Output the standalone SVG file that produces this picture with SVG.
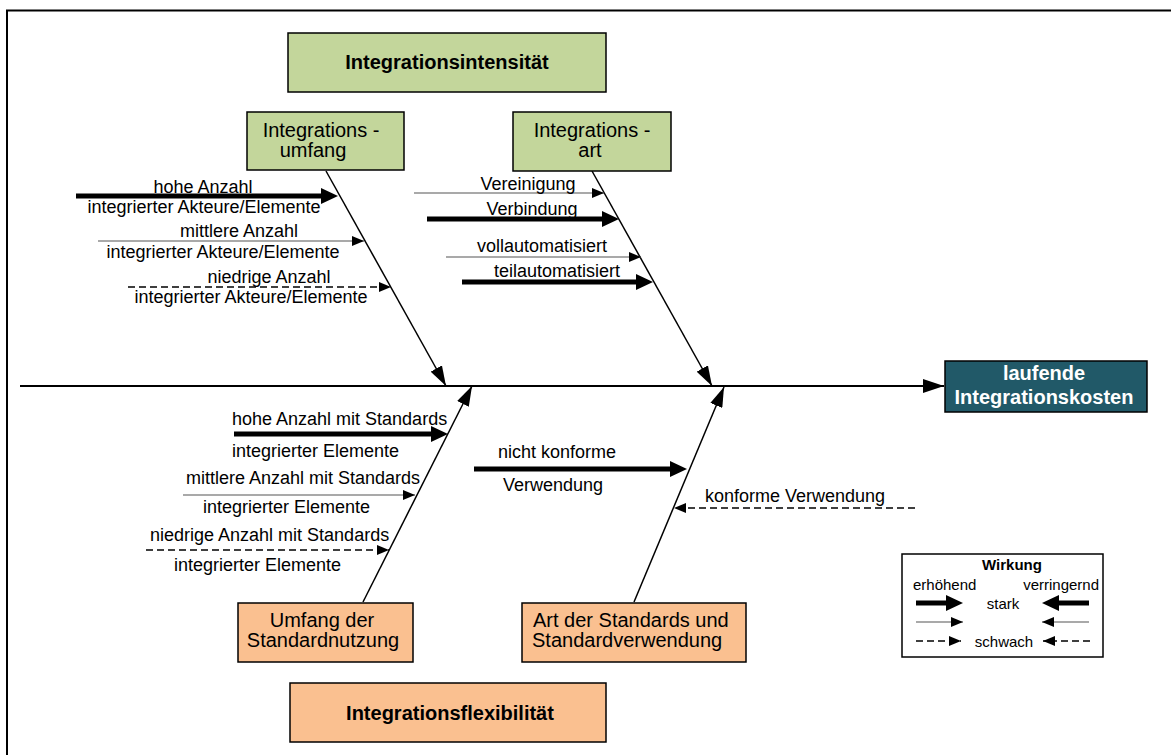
<svg xmlns="http://www.w3.org/2000/svg" width="1171" height="755" viewBox="0 0 1171 755">
  <style>
    text { font-family: "Liberation Sans", Arial, sans-serif; fill: #000; }
    .lbl { font-size: 18px; }
    .box-txt { font-size: 20px; }
    .title { font-size: 20px; font-weight: bold; }
    .leg { font-size: 15px; }
    .mid { text-anchor: middle; }
    .end { text-anchor: end; }
    .green { fill: #c3d69b; stroke: #000; stroke-width: 1.5; }
    .peach { fill: #fac090; stroke: #000; stroke-width: 1.5; }
    .teal { fill: #215968; stroke: #000; stroke-width: 1.5; }
    .spine { stroke: #000; stroke-width: 1.5; fill: none; }
    .thick { stroke: #000; stroke-width: 5; fill: none; }
    .thin { stroke: #555; stroke-width: 1.2; fill: none; }
    .dash { stroke: #000; stroke-width: 1.6; fill: none; stroke-dasharray: 7 4; }
  </style>
  <defs>
    <marker id="ah-thin" markerUnits="userSpaceOnUse" markerWidth="12" markerHeight="10" refX="12" refY="5" orient="auto">
      <path d="M0,0 L12,5 L0,10 z" fill="#000"/>
    </marker>
    <marker id="ah-thick" markerUnits="userSpaceOnUse" markerWidth="17" markerHeight="16" refX="0" refY="8" orient="auto">
      <path d="M0,0 L17,8 L0,16 z" fill="#000"/>
    </marker>
    <marker id="ah-spine" markerUnits="userSpaceOnUse" markerWidth="20" markerHeight="13" refX="20" refY="6.5" orient="auto">
      <path d="M0,0 L20,6.5 L0,13 z" fill="#000"/>
    </marker>
    <marker id="ah-main" markerUnits="userSpaceOnUse" markerWidth="21" markerHeight="14" refX="21" refY="7" orient="auto">
      <path d="M0,0 L21,7 L0,14 z" fill="#000"/>
    </marker>
  </defs>

  <rect width="1171" height="755" fill="#fff"/>
  <!-- outer frame (open at right and bottom) -->
  <path d="M7,755 V10.5 H1171" fill="none" stroke="#000" stroke-width="2"/>

  <!-- connectors -->
  <g id="connectors">
    <!-- main spine -->
    <line x1="20" y1="386" x2="944" y2="386" stroke="#000" stroke-width="2" marker-end="url(#ah-main)"/>
    <!-- category bones -->
    <line class="spine" x1="326" y1="171" x2="446" y2="386" marker-end="url(#ah-spine)"/>
    <line class="spine" x1="592" y1="171" x2="712" y2="386" marker-end="url(#ah-spine)"/>
    <line class="spine" x1="363" y1="602" x2="472" y2="386" marker-end="url(#ah-spine)"/>
    <line class="spine" x1="634" y1="602" x2="724" y2="387" marker-end="url(#ah-spine)"/>

    <!-- Integrationsumfang -->
    <line class="thick" x1="76" y1="196" x2="321" y2="196" marker-end="url(#ah-thick)"/>
    <line class="thin" x1="98" y1="241" x2="364" y2="241" marker-end="url(#ah-thin)"/>
    <line class="dash" x1="128" y1="287" x2="391" y2="287" stroke-dasharray="10 6" marker-end="url(#ah-thin)"/>

    <!-- Integrationsart -->
    <line class="thin" x1="414" y1="193" x2="604" y2="193" marker-end="url(#ah-thin)"/>
    <line class="thick" x1="427" y1="219" x2="602" y2="219" marker-end="url(#ah-thick)"/>
    <line class="thin" x1="446" y1="257" x2="641" y2="257" marker-end="url(#ah-thin)"/>
    <line class="thick" x1="462" y1="282" x2="636" y2="282" marker-end="url(#ah-thick)"/>

    <!-- Umfang der Standardnutzung -->
    <line class="thick" x1="234" y1="434" x2="431" y2="434" marker-end="url(#ah-thick)"/>
    <line class="thin" x1="183" y1="495" x2="415" y2="495" marker-end="url(#ah-thin)"/>
    <line class="dash" x1="146" y1="550" x2="389" y2="550" marker-end="url(#ah-thin)"/>

    <!-- Art der Standards und Standardverwendung -->
    <line class="thick" x1="474" y1="469" x2="670" y2="469" marker-end="url(#ah-thick)"/>
    <line class="dash" x1="915" y1="508" x2="674" y2="508" marker-end="url(#ah-thin)"/>
  </g>

  <g id="integrationsintensitaet">
    <rect class="green" x="288" y="33" width="318" height="59"/>
    <text class="title mid" x="447" y="69">Integrationsintensität</text>
  </g>

  <g id="integrationsumfang">
    <rect class="green" x="247" y="112" width="157" height="58"/>
    <text class="box-txt mid" x="321" y="137">Integrations -</text>
    <text class="box-txt mid" x="313" y="157">umfang</text>
  </g>

  <g id="integrationsart">
    <rect class="green" x="513" y="112" width="158" height="59"/>
    <text class="box-txt mid" x="592" y="137">Integrations -</text>
    <text class="box-txt mid" x="590" y="157">art</text>
  </g>

  <g id="laufende-kosten">
    <rect class="teal" x="945" y="361" width="202" height="51"/>
    <text class="title mid" x="1044" y="380" fill="#fff" style="fill:#fff">laufende</text>
    <text class="title mid" x="1044" y="404" style="fill:#fff">Integrationskosten</text>
  </g>

  <g id="umfang-standardnutzung">
    <rect class="peach" x="238" y="603" width="175" height="59"/>
    <text class="box-txt mid" x="322" y="627">Umfang der</text>
    <text class="box-txt mid" x="323" y="647">Standardnutzung</text>
  </g>

  <g id="art-standards">
    <rect class="peach" x="522" y="603" width="224" height="59"/>
    <text class="box-txt" x="533" y="627">Art der Standards und</text>
    <text class="box-txt" x="532" y="647">Standardverwendung</text>
  </g>

  <g id="integrationsflexibilitaet">
    <rect class="peach" x="290" y="683" width="316" height="59"/>
    <text class="title mid" x="450" y="720">Integrationsflexibilität</text>
  </g>

  <!-- branch labels -->
  <g id="labels-umfang">
    <text class="lbl mid" x="203" y="193">hohe Anzahl</text>
    <text class="lbl mid" x="204" y="213">integrierter Akteure/Elemente</text>
    <text class="lbl mid" x="239" y="237">mittlere Anzahl</text>
    <text class="lbl mid" x="223" y="258">integrierter Akteure/Elemente</text>
    <text class="lbl mid" x="269" y="283">niedrige Anzahl</text>
    <text class="lbl mid" x="251" y="303">integrierter Akteure/Elemente</text>
  </g>

  <g id="labels-art">
    <text class="lbl mid" x="528" y="190">Vereinigung</text>
    <text class="lbl mid" x="532" y="215">Verbindung</text>
    <text class="lbl mid" x="542" y="252">vollautomatisiert</text>
    <text class="lbl mid" x="557" y="277">teilautomatisiert</text>
  </g>

  <g id="labels-standardnutzung">
    <text class="lbl" x="232" y="425">hohe Anzahl mit Standards</text>
    <text class="lbl" x="232" y="457">integrierter Elemente</text>
    <text class="lbl" x="186" y="484">mittlere Anzahl mit Standards</text>
    <text class="lbl" x="203" y="513">integrierter Elemente</text>
    <text class="lbl" x="150" y="541">niedrige Anzahl mit Standards</text>
    <text class="lbl" x="174" y="571">integrierter Elemente</text>
  </g>

  <g id="labels-standardverwendung">
    <text class="lbl" x="498" y="458">nicht konforme</text>
    <text class="lbl" x="503" y="491">Verwendung</text>
    <text class="lbl" x="705" y="502">konforme Verwendung</text>
  </g>

  <!-- legend -->
  <g id="legend">
    <rect x="902" y="554" width="201" height="103" fill="#fff" stroke="#000" stroke-width="1.5"/>
    <text class="leg mid" x="1012" y="570" font-weight="bold">Wirkung</text>
    <text class="leg" x="913" y="590">erhöhend</text>
    <text class="leg end" x="1099" y="590">verringernd</text>
    <text class="leg mid" x="1003" y="609">stark</text>
    <text class="leg mid" x="1004" y="647">schwach</text>
    <line class="thick" x1="916" y1="603" x2="946" y2="603" marker-end="url(#ah-thick)"/>
    <line class="thick" x1="1089" y1="603" x2="1059" y2="603" marker-end="url(#ah-thick)"/>
    <line class="thin" x1="916" y1="622" x2="963" y2="622" marker-end="url(#ah-thin)"/>
    <line class="thin" x1="1089" y1="622" x2="1042" y2="622" marker-end="url(#ah-thin)"/>
    <line class="dash" x1="916" y1="641" x2="961" y2="641" stroke-dasharray="6 4" marker-end="url(#ah-thin)"/>
    <line class="dash" x1="1090" y1="641" x2="1043" y2="641" stroke-dasharray="6 4" marker-end="url(#ah-thin)"/>
  </g>
</svg>
